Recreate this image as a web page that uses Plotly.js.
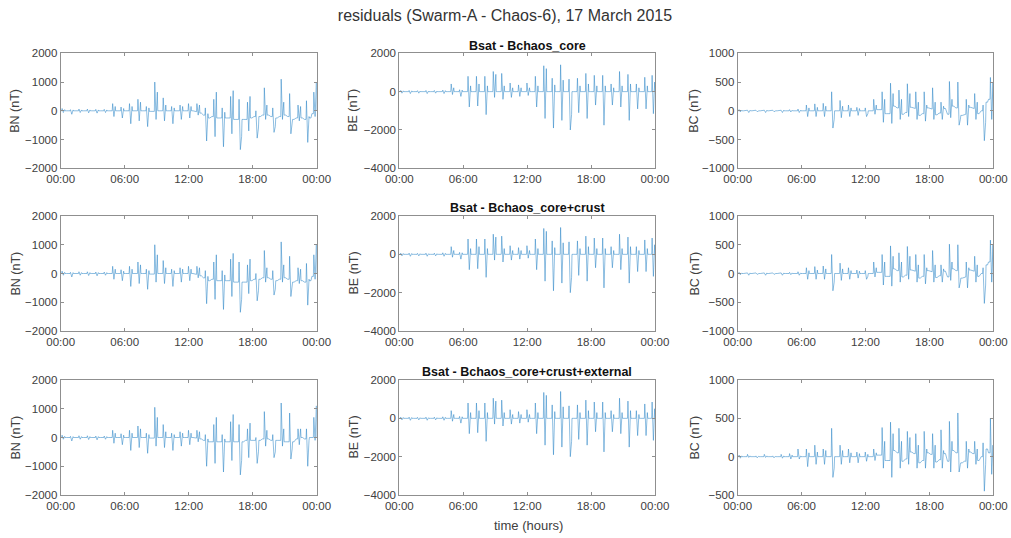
<!DOCTYPE html>
<html><head><meta charset="utf-8">
<script src="https://cdn.plot.ly/plotly-3.0.1.min.js"></script>
<style>html,body{margin:0;padding:0;background:#fff}#chart{width:1011px;height:538px}</style>
</head><body><div id="chart"></div>
<script>
// centres (hours) of the polar passes seen as spike clusters
const passTimes = [0.25,1.04,1.83,2.62,3.41,4.20,4.99,5.78,6.57,7.36,8.15,8.94,9.73,10.52,11.31,12.10,12.89,13.68,14.47,15.26,16.05,16.84,17.63,18.42,19.21,20.00,20.79,21.58,22.37,23.16,23.85];
const tickVals = [0,6,12,18,24];
const tickLabels = ['00:00','06:00','12:00','18:00','00:00'];
const rowTitles = ['Bsat - Bchaos_core','Bsat - Bchaos_core+crust','Bsat - Bchaos_core+crust+external'];
const compTitles = ['BN (nT)','BE (nT)','BC (nT)'];

// per pass: [level before, spike 1, spike 2, spike 3, level after]  (nT)
const bnCore = [
[0,80,-60,40,0],[0,40,-120,30,0],[0,60,-60,30,0],[0,60,-70,30,0],[0,50,-80,30,0],[0,50,-60,30,0],
[0,250,-200,150,0],[0,130,-250,80,0],[0,250,-450,150,0],[0,400,-350,300,0],[0,150,-550,100,-20],
[-20,1000,-300,650,0],[0,450,-350,200,0],[0,150,-450,100,0],[0,200,-300,150,0],[0,250,-250,150,0],
[-30,250,-150,200,-80],[-150,100,-1050,-100,-250],[-200,400,-900,650,-250],[-250,100,-1250,-50,-250],
[-250,500,-800,700,-300],[-300,400,-1350,-900,-300],[-300,300,-700,500,-250],[-200,0,-950,-600,-200],
[-150,800,-300,200,-150],[-200,100,-750,-550,-250],[-200,1100,-300,300,-150],[-200,600,-800,-450,-300],
[-250,200,-350,150,-250],[-300,350,-1100,-200,-250],[-100,650,-200,1000,0]];
const bnCoreCrust = bnCore;
const bnFull = [
[0,80,-60,40,0],[0,40,-120,30,0],[0,60,-60,30,0],[0,60,-70,30,0],[0,50,-80,30,0],[0,50,-60,30,0],
[0,250,-200,150,0],[0,130,-250,80,0],[0,250,-450,150,0],[0,400,-350,300,0],[0,150,-550,100,-20],
[-20,1050,-300,700,0],[0,450,-350,200,0],[0,150,-450,100,0],[0,200,-300,150,0],[0,250,-250,150,0],
[-20,250,-150,200,-50],[-100,100,-1000,-50,-150],[-150,450,-900,700,-150],[-150,100,-1200,-50,-150],
[-150,550,-800,800,-150],[-150,450,-1300,-800,-150],[-100,300,-700,500,-100],[-100,0,-900,-500,-100],
[-50,900,-300,250,-50],[-100,100,-700,-500,-100],[-100,1200,-300,300,-150],[-150,850,-750,-400,-150],
[-50,300,-250,300,0],[-50,300,-1000,-100,0],[0,700,-100,1100,0]];

const beCore = [
[0,60,-80,40,0],[0,60,-100,40,0],[0,50,-80,30,0],[0,60,-100,30,0],[0,60,-80,30,0],[0,80,-100,50,0],
[0,400,-150,200,0],[0,100,-250,80,0],[0,800,-800,300,0],[0,800,-750,400,0],[0,800,-1200,300,0],
[0,1050,-300,900,0],[0,950,-400,300,0],[0,450,-300,200,0],[0,350,-250,200,0],[0,450,-200,200,0],
[0,800,-800,300,0],[0,1350,-1400,1200,0],[0,700,-1900,350,0],[0,1400,-1500,600,0],[0,650,-2000,-1200,0],
[0,700,-1100,300,0],[0,950,-1400,400,0],[0,850,-700,300,0],[0,850,-1750,300,0],[0,400,-700,200,0],
[0,1050,-800,300,0],[0,900,-1500,400,0],[0,400,-900,200,0],[0,750,-900,300,0],[0,850,-1150,500,0]];
const beCoreCrust = beCore;
const beFull = beCore;

const bcCore = [
[0,20,-20,10,0],[0,10,-30,10,0],[0,10,-15,5,0],[0,10,-30,10,0],[0,10,-15,5,0],[0,10,-30,10,0],
[0,20,-20,10,0],[0,30,-30,10,0],[0,100,-100,50,0],[0,120,-100,60,0],[0,130,-100,80,0],
[0,330,-300,-150,0],[0,180,-120,80,0],[0,100,-100,50,0],[0,60,-80,40,0],[0,50,-100,-50,0],
[0,200,-60,100,20],[20,330,-200,200,-50],[-50,480,-220,300,80],[50,360,-150,200,-60],[-30,470,-100,300,60],
[40,330,-150,150,-80],[-50,330,-180,100,50],[30,400,-150,150,-70],[-40,150,-150,80,40],[-60,510,-120,200,80],
[50,500,-250,-150,-80],[-60,200,-250,100,60],[40,300,-150,150,-50],[0,100,-520,-200,150],[200,580,-150,500,-150]];
const bcCoreCrust = bcCore;
const bcFull = [
[0,20,-20,10,0],[0,30,-10,10,0],[0,10,-15,5,0],[0,30,-10,10,0],[0,10,-15,5,0],[0,30,-20,10,0],
[0,40,-30,20,0],[0,100,-30,10,0],[0,100,-130,50,0],[0,150,-100,60,0],[0,100,-100,80,0],
[0,370,-270,-150,0],[0,150,-100,80,0],[0,100,-80,50,0],[0,60,-80,40,0],[0,60,-60,30,0],
[0,100,-50,50,20],[20,380,-150,200,-50],[-50,450,-270,300,80],[50,370,-150,200,-60],[-30,330,-100,250,60],
[40,300,-150,150,-80],[-50,330,-150,100,50],[30,300,-150,150,-70],[-40,350,-150,80,40],[-60,460,-200,200,80],
[50,570,-200,-100,-80],[-60,200,-150,100,60],[40,200,-100,100,-50],[0,180,-450,-100,100],[50,500,-230,150,0]];

const panels = [
 [bnCore, beCore, bcCore],
 [bnCoreCrust, beCoreCrust, bcCoreCrust],
 [bnFull, beFull, bcFull]];

// sampling of each pass (hours relative to pass centre)
const sampleOffsets = [-0.3,-0.16,-0.12,0,0.12,0.16,0.3];
function build(passes){
  const x=[], y=[];
  passes.forEach((p,i)=>{
    const c = passTimes[i];
    const vals = [p[0],p[0],p[1],p[2],p[3],p[4],p[4]];
    sampleOffsets.forEach((o,j)=>{ x.push(c+o); y.push(vals[j]); });
  });
  return {x,y};
}

const W=1011, H=538;
const colPx = [[60.7,316.7],[399.3,655],[737.7,993.3]];
const rowPx = [[53.3,168.3],[216,331],[380,495]];
const yRanges = [
 [[-2000,2000],[-4000,2000],[-1000,1000]],
 [[-2000,2000],[-4000,2000],[-1000,1000]],
 [[-2000,2000],[-4000,2000],[-500,1000]]];
const yTicks = [
 [[-2000,-1000,0,1000,2000],[-4000,-2000,0,2000],[-1000,-500,0,500,1000]],
 [[-2000,-1000,0,1000,2000],[-4000,-2000,0,2000],[-1000,-500,0,500,1000]],
 [[-2000,-1000,0,1000,2000],[-4000,-2000,0,2000],[-500,0,500,1000]]];

const traces=[];
const layout = {
  width:W, height:H, margin:{l:0,r:0,t:0,b:0}, showlegend:false,
  paper_bgcolor:'#fff', plot_bgcolor:'#fff',
  font:{family:'Liberation Sans, Arial, sans-serif', color:'#404040', size:11.5},
  title:{text:'residuals (Swarm-A - Chaos-6), 17 March 2015', x:505/W, xanchor:'center', y:1-15/H, yanchor:'middle', xref:'paper', yref:'paper', font:{size:16, color:'#333'}},
  annotations:[]
};
const axisTitleX = [15, 353, 694];
for(let r=0;r<3;r++){
  for(let c=0;c<3;c++){
    const idx = r*3+c+1;
    const d = build(panels[r][c]);
    traces.push({type:'scatter', mode:'lines', x:d.x, y:d.y,
      xaxis:'x'+(idx===1?'':idx), yaxis:'y'+(idx===1?'':idx),
      line:{color:'#2c86c8', width:0.6}, opacity:0.9, hoverinfo:'skip'});
    const ax = {
      domain:[colPx[c][0]/W, colPx[c][1]/W], range:[0,24], anchor:'y'+(idx===1?'':idx),
      tickmode:'array', tickvals:tickVals, ticktext:tickLabels,
      ticks:'inside', ticklen:3, tickcolor:'#8f8f8f', showline:true, linecolor:'#8f8f8f', linewidth:1,
      mirror:'ticks', showgrid:false, zeroline:false, fixedrange:true, tickfont:{size:11.5, color:'#404040'}
    };
    const ay = {
      domain:[1-rowPx[r][1]/H, 1-rowPx[r][0]/H], range:yRanges[r][c], anchor:'x'+(idx===1?'':idx),
      tickmode:'array', tickvals:yTicks[r][c],
      ticks:'inside', ticklen:3, tickcolor:'#8f8f8f', showline:true, linecolor:'#8f8f8f', linewidth:1,
      mirror:'ticks', showgrid:false, zeroline:false, fixedrange:true, tickfont:{size:11.5, color:'#404040'}
    };
    layout['xaxis'+(idx===1?'':idx)] = ax;
    layout['yaxis'+(idx===1?'':idx)] = ay;
    layout.annotations.push({text:compTitles[c], textangle:-90, xref:'paper', yref:'paper',
      x:axisTitleX[c]/W, y:1-(rowPx[r][0]+rowPx[r][1])/2/H, xanchor:'center', yanchor:'middle',
      showarrow:false, font:{size:12.5, color:'#404040'}});
  }
  layout.annotations.push({text:'<b>'+rowTitles[r]+'</b>', xref:'paper', yref:'paper',
    x:527/W, y:1-[46,208,372][r]/H, xanchor:'center', yanchor:'middle', showarrow:false,
    font:{size:12.5, color:'#111'}});
}
layout.annotations.push({text:'time (hours)', xref:'paper', yref:'paper', x:528/W, y:1-525/H,
  xanchor:'center', yanchor:'middle', showarrow:false, font:{size:13, color:'#404040'}});

Plotly.newPlot('chart', traces, layout, {staticPlot:true, displayModeBar:false});
</script>
</body></html>
